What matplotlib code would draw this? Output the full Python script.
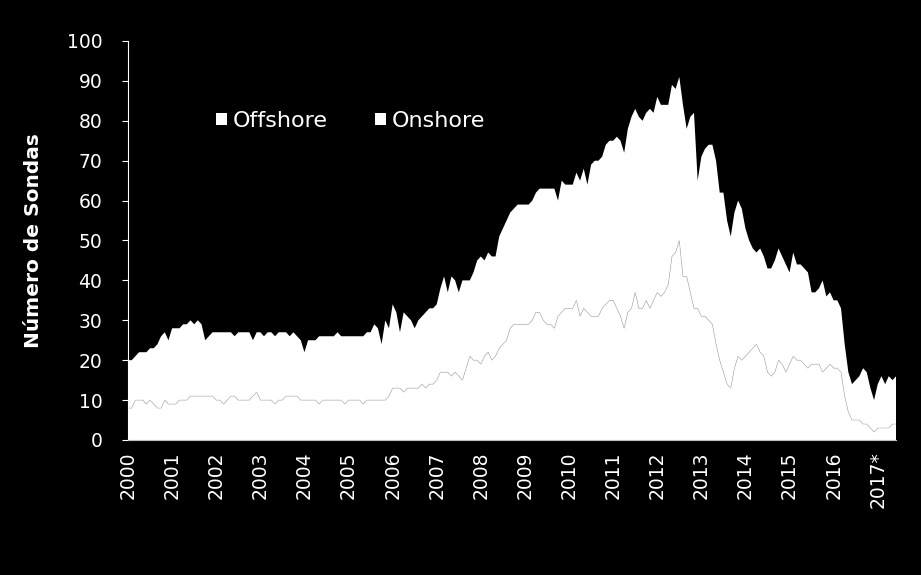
import numpy as np
import matplotlib
matplotlib.use('Agg')
import matplotlib.pyplot as plt
from matplotlib.patches import Patch

# monthly rig counts, Jan 2000 - Jun 2017
total = [
    20, 20, 21, 22, 22, 22, 23, 23, 24, 26, 27, 25,   # 2000
    28, 28, 28, 29, 29, 30, 29, 30, 29, 25, 26, 27,   # 2001
    27, 27, 27, 27, 27, 26, 27, 27, 27, 27, 25, 27,   # 2002
    27, 26, 27, 27, 26, 27, 27, 27, 26, 27, 26, 25,   # 2003
    22, 25, 25, 25, 26, 26, 26, 26, 26, 27, 26, 26,   # 2004
    26, 26, 26, 26, 26, 27, 27, 29, 28, 24, 30, 28,   # 2005
    34, 32, 27, 32, 31, 30, 28, 30, 31, 32, 33, 33,   # 2006
    34, 38, 41, 37, 41, 40, 37, 40, 40, 40, 42, 45,   # 2007
    46, 45, 47, 46, 46, 51, 53, 55, 57, 58, 59, 59,   # 2008
    59, 59, 60, 62, 63, 63, 63, 63, 63, 60, 65, 64,   # 2009
    64, 64, 67, 65, 68, 64, 69, 70, 70, 71, 74, 75,   # 2010
    75, 76, 75, 72, 78, 81, 83, 81, 80, 82, 83, 82,   # 2011
    86, 84, 84, 84, 89, 88, 91, 84, 78, 81, 82, 65,   # 2012
    71, 73, 74, 74, 70, 62, 62, 55, 51, 57, 60, 58,   # 2013
    53, 50, 48, 47, 48, 46, 43, 43, 45, 48, 46, 44,   # 2014
    42, 47, 44, 44, 43, 42, 37, 37, 38, 40, 36, 37,   # 2015
    35, 35, 33, 24, 17, 14, 15, 16, 18, 17, 13, 10,   # 2016
    14, 16, 14, 16, 15, 16,                           # 2017
]
offshore = [
    8, 8, 10, 10, 10, 9, 10, 9, 8, 8, 10, 9,
    9, 9, 10, 10, 10, 11, 11, 11, 11, 11, 11, 11,
    10, 10, 9, 10, 11, 11, 10, 10, 10, 10, 11, 12,
    10, 10, 10, 10, 9, 10, 10, 11, 11, 11, 11, 10,
    10, 10, 10, 10, 9, 10, 10, 10, 10, 10, 10, 9,
    10, 10, 10, 10, 9, 10, 10, 10, 10, 10, 10, 11,
    13, 13, 13, 12, 13, 13, 13, 13, 14, 13, 14, 14,
    15, 17, 17, 17, 16, 17, 16, 15, 18, 21, 20, 20,
    19, 21, 22, 20, 21, 23, 24, 25, 28, 29, 29, 29,
    29, 29, 30, 32, 32, 30, 29, 29, 28, 31, 32, 33,
    33, 33, 35, 31, 33, 32, 31, 31, 31, 33, 34, 35,
    35, 33, 31, 28, 32, 33, 37, 33, 33, 35, 33, 35,
    37, 36, 37, 39, 46, 47, 50, 41, 41, 37, 33, 33,
    31, 31, 30, 29, 24, 20, 17, 14, 13, 18, 21, 20,
    21, 22, 23, 24, 22, 21, 17, 16, 17, 20, 19, 17,
    19, 21, 20, 20, 19, 18, 19, 19, 19, 17, 18, 19,
    18, 18, 17, 11, 7, 5, 5, 5, 4, 4, 3, 2,
    3, 3, 3, 3, 4, 4,
]
year_labels = [str(y) for y in range(2000, 2017)] + ['2017*']

total = np.array(total, dtype=float)
offshore = np.array(offshore, dtype=float)
onshore = total - offshore
months = np.arange(len(total))

fig = plt.figure(figsize=(9.21, 5.75), dpi=100, facecolor='black')
ax = fig.add_axes([0.139, 0.2348, 0.834, 0.6939])
ax.set_facecolor('black')

ax.stackplot(months, offshore, onshore, colors=['white', 'white'], linewidth=0)
ax.plot(months, offshore, color='#c4c4c4', linewidth=0.5)

ax.set_xlim(0, len(total) - 1)
ax.set_ylim(0, 100)
ax.set_yticks(range(0, 101, 10))
ax.set_xticks(months[::12])
ax.set_xticklabels(year_labels, rotation=90)

ax.tick_params(colors='white', labelsize=13.5)
ax.tick_params(axis='y', length=4.5, pad=14)
ax.tick_params(axis='x', length=0, pad=8)
for s in ['top', 'right']:
    ax.spines[s].set_visible(False)
ax.spines['left'].set_color('white')
ax.spines['bottom'].set_color('#bfbfbf')

ax.set_ylabel('Número de Sondas', color='white', fontsize=14.5,
              fontweight='bold', labelpad=17)

handles = [Patch(facecolor='white', edgecolor='none', label='Offshore'),
           Patch(facecolor='white', edgecolor='none', label='Onshore')]
leg = ax.legend(handles=handles, loc='center left', bbox_to_anchor=(0.089, 0.8),
                ncol=2, frameon=False, fontsize=16, handlelength=0.5,
                handleheight=0.5, handletextpad=0.25, columnspacing=2.1)
for t in leg.get_texts():
    t.set_color('white')

fig.savefig('out.png', dpi=100, facecolor='black')
